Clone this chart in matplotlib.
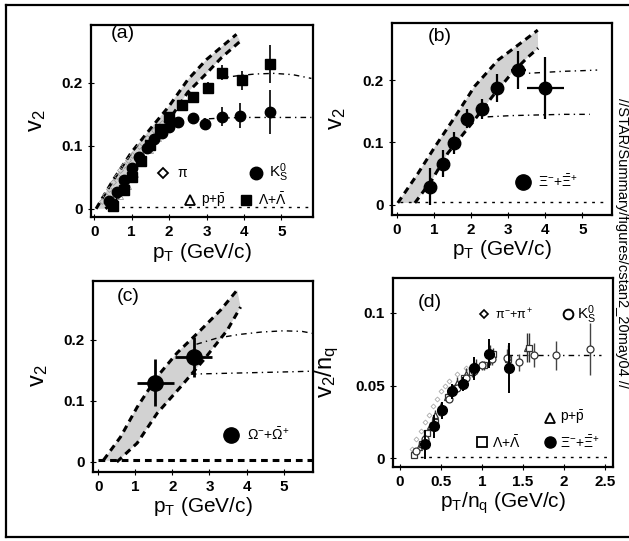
import numpy as np
import matplotlib.pyplot as plt
from matplotlib.lines import Line2D

plt.rcParams['font.family'] = ['Liberation Sans', 'DejaVu Sans']
plt.rcParams['mathtext.fontset'] = 'custom'
plt.rcParams['mathtext.rm'] = 'Liberation Sans'
plt.rcParams['mathtext.it'] = 'Liberation Sans'

# ---- panel (a): pi, K0s, p+pbar, Lambda ----
pi_pt = [0.2, 0.3, 0.4, 0.5, 0.6, 0.7, 0.8, 0.9, 1.0, 1.2, 1.4, 1.6, 1.8, 2.0]
pi_v2 = [0.012, 0.022, 0.032, 0.042, 0.052, 0.061, 0.069, 0.078, 0.086, 0.100, 0.113, 0.125, 0.136, 0.146]
pp_pt = [0.5, 0.7, 0.9, 1.1, 1.3, 1.5, 1.7, 1.9, 2.1, 2.4]
pp_v2 = [0.006, 0.020, 0.036, 0.055, 0.075, 0.094, 0.112, 0.130, 0.145, 0.163]
k0_pt = [0.4, 0.6, 0.8, 1.0, 1.2, 1.4, 1.6, 1.8, 2.0, 2.25, 2.65, 2.95, 3.4, 3.9, 4.7]
k0_v2 = [0.012, 0.027, 0.046, 0.065, 0.082, 0.096, 0.110, 0.121, 0.130, 0.138, 0.144, 0.135, 0.146, 0.148, 0.153]
k0_err = [0.003, 0.003, 0.003, 0.003, 0.003, 0.004, 0.004, 0.004, 0.005, 0.006, 0.008, 0.009, 0.015, 0.02, 0.035]
la_pt = [0.5, 0.8, 1.0, 1.25, 1.5, 1.75, 2.0, 2.35, 2.65, 3.05, 3.4, 3.95, 4.7]
la_v2 = [0.005, 0.030, 0.050, 0.076, 0.102, 0.127, 0.145, 0.165, 0.178, 0.192, 0.216, 0.204, 0.230]
la_err = [0.003, 0.003, 0.003, 0.004, 0.004, 0.005, 0.005, 0.006, 0.007, 0.009, 0.012, 0.015, 0.03]

# ---- panel (b): Xi ----
xi_pt = [0.89, 1.24, 1.54, 1.9, 2.3, 2.7, 3.27, 4.0]
xi_v2 = [0.029, 0.066, 0.099, 0.138, 0.154, 0.187, 0.216, 0.187]
xi_yerr = [0.03, 0.022, 0.018, 0.015, 0.016, 0.022, 0.03, 0.05]
xi_xerr = [0.0, 0.0, 0.0, 0.0, 0.0, 0.0, 0.2, 0.5]

# ---- panel (c): Omega ----
om_pt = [1.54, 2.57]
om_v2 = [0.13, 0.172]
om_yerr = [0.038, 0.033]
om_xerr = [0.5, 0.5]

# hydro bands (upper / lower dashed edges)
ba_up_x = [0.05, 0.5, 1.0, 1.5, 2.0, 2.5, 3.0, 3.5, 3.8]
ba_up_y = [0.0, 0.045, 0.09, 0.127, 0.163, 0.205, 0.237, 0.262, 0.277]
ba_lo_x = [0.3, 0.6, 0.9, 1.2, 1.5, 1.8, 2.1, 2.5, 3.0, 3.4, 3.9]
ba_lo_y = [0.0, 0.014, 0.042, 0.078, 0.105, 0.125, 0.150, 0.185, 0.215, 0.240, 0.266]
bb_up_x = [0.03, 0.57, 1.03, 1.57, 2.1, 2.73, 3.38, 3.8]
bb_up_y = [0.003, 0.05, 0.093, 0.141, 0.19, 0.232, 0.261, 0.28]
bb_lo_x = [0.49, 0.95, 1.38, 2.03, 2.57, 3.1, 3.54, 3.81]
bb_lo_y = [0.003, 0.04, 0.083, 0.131, 0.173, 0.211, 0.237, 0.251]
bc_up_x = [0.14, 0.6, 1.05, 1.59, 2.13, 2.76, 3.3, 3.75]
bc_up_y = [0.003, 0.041, 0.09, 0.14, 0.179, 0.216, 0.249, 0.282]
bc_lo_x = [0.5, 1.05, 1.59, 2.22, 2.84, 3.48, 3.84]
bc_lo_y = [0.0, 0.031, 0.08, 0.123, 0.167, 0.216, 0.254]

# quark-scaling dotted curves
bar_x = [3.3, 3.8, 4.3, 4.8, 5.3, 5.8]
bar_y = [0.207, 0.211, 0.214, 0.215, 0.213, 0.207]
mes_x = [2.25, 2.8, 3.4, 4.0, 4.6, 5.2, 5.8]
mes_y = [0.139, 0.142, 0.144, 0.145, 0.145, 0.145, 0.145]

# ---- panel (d): scaled ----
d_pi_x = [0.15, 0.2, 0.25, 0.3, 0.35, 0.4, 0.45, 0.5, 0.55, 0.6, 0.7, 0.8, 0.9]
d_pi_y = [0.006, 0.013, 0.019, 0.025, 0.030, 0.036, 0.041, 0.046, 0.050, 0.053, 0.058, 0.062, 0.065]
d_k_x = [0.2, 0.3, 0.4, 0.5, 0.6, 0.7, 0.8, 0.9, 1.0, 1.12, 1.3, 1.45, 1.63, 1.9, 2.32]
d_k_y = [0.005, 0.013, 0.022, 0.032, 0.041, 0.048, 0.055, 0.060, 0.064, 0.068, 0.069, 0.066, 0.071, 0.071, 0.075]
d_k_err = [0.002, 0.002, 0.002, 0.002, 0.002, 0.002, 0.002, 0.003, 0.003, 0.004, 0.006, 0.006, 0.008, 0.01, 0.018]
d_p_x = [0.17, 0.23, 0.3, 0.37, 0.43, 0.5, 0.57, 0.63, 0.7, 0.8, 0.93, 1.1, 1.32, 1.55]
d_p_y = [0.004, 0.008, 0.015, 0.022, 0.030, 0.036, 0.042, 0.047, 0.052, 0.058, 0.063, 0.071, 0.070, 0.076]
d_p_err = [0.003, 0.003, 0.003, 0.003, 0.003, 0.003, 0.003, 0.003, 0.004, 0.004, 0.005, 0.007, 0.008, 0.01]
d_la_x = [0.17, 0.27, 0.33, 0.42, 0.5, 0.58, 0.67, 0.78, 0.88, 1.02, 1.13, 1.32, 1.57]
d_la_y = [0.002, 0.010, 0.017, 0.025, 0.033, 0.042, 0.048, 0.055, 0.059, 0.064, 0.072, 0.068, 0.076]
d_la_err = [0.001, 0.001, 0.001, 0.001, 0.002, 0.002, 0.002, 0.002, 0.003, 0.003, 0.004, 0.005, 0.01]
d_xi_x = [0.3, 0.41, 0.51, 0.63, 0.77, 0.9, 1.09, 1.33]
d_xi_y = [0.0097, 0.022, 0.033, 0.046, 0.051, 0.062, 0.072, 0.062]
d_xi_err = [0.01, 0.008, 0.006, 0.005, 0.005, 0.008, 0.01, 0.017]
d_line_x = [1.3, 1.6, 1.9, 2.2, 2.45]
d_line_y = [0.071, 0.071, 0.071, 0.071, 0.071]

fig = plt.figure(figsize=(6.29, 5.41), dpi=100)
# outer frame (left, top, bottom sides only; right side is cut off in the scan)
for xs, ys in [([0.010, 0.010], [0.007, 0.991]), ([0.010, 1.0], [0.991, 0.991]),
               ([0.010, 1.0], [0.007, 0.007])]:
    fig.add_artist(Line2D(xs, ys, transform=fig.transFigure, color='black', lw=1.6))

band_dash = (0, (2.2, 1.6))
dot_ls = (0, (2, 4))
ddot_ls = (0, (4, 3, 1, 3))


def band(ax, ux, uy, lx, ly):
    ax.fill(np.r_[ux, lx[::-1]], np.r_[uy, ly[::-1]], color='#d2d2d2', lw=0, zorder=1)
    ax.plot(ux, uy, color='black', lw=2.2, ls=band_dash, zorder=2)
    ax.plot(lx, ly, color='black', lw=2.2, ls=band_dash, zorder=2)


def style(ax, xlim, ylim, xt, xtl, yt, ytl, xlabel, ylabel):
    ax.set_xlim(*xlim)
    ax.set_ylim(*ylim)
    ax.set_xticks(xt)
    ax.set_xticklabels(xtl, fontsize=11, fontweight='bold')
    ax.set_yticks(yt)
    ax.set_yticklabels(ytl, fontsize=11, fontweight='bold')
    ax.tick_params(direction='inout', length=4, width=0.8, pad=4)
    for s in ax.spines.values():
        s.set_linewidth(1.6)
    ax.set_xlabel(xlabel, fontsize=15, labelpad=1)
    ax.set_ylabel(ylabel, fontsize=17, labelpad=10)


xt5 = [0, 1, 2, 3, 4, 5]
xtl5 = ['0', '1', '2', '3', '4', '5']
yt = [0, 0.1, 0.2]
ytl = ['0', '0.1', '0.2']
ptlab = r'p$_\mathrm{T}$ (GeV/c)'
v2lab = r'v$_2$'

# (a)
ax = fig.add_axes([0.145, 0.599, 0.353, 0.355])
band(ax, np.array(ba_up_x), np.array(ba_up_y), np.array(ba_lo_x), np.array(ba_lo_y))
ax.plot([0.3, 5.8], [0.003, 0.003], color='black', lw=1, ls=dot_ls)
ax.plot(bar_x, bar_y, color='black', lw=1, ls=ddot_ls)
ax.plot(mes_x, mes_y, color='black', lw=1, ls=ddot_ls)
ax.plot(pi_pt, pi_v2, 'D', ms=3, mfc='none', mec='#9a9a9a', mew=0.6, zorder=3)
ax.plot(pp_pt, pp_v2, '^', ms=4, mfc='none', mec='#9a9a9a', mew=0.6, zorder=3)
ax.errorbar(la_pt, la_v2, yerr=la_err, fmt='s', ms=7, color='black', elinewidth=1.2, capsize=0, zorder=4)
ax.errorbar(k0_pt, k0_v2, yerr=k0_err, fmt='o', ms=7.5, color='black', elinewidth=1.2, capsize=0, zorder=4)
ax.plot([1.83], [0.057], 'D', ms=5, mfc='white', mec='black', mew=1.3)
ax.text(2.2, 0.057, r'$\pi$', fontsize=10, va='center')
ax.plot([4.33], [0.057], 'o', ms=9, color='black')
ax.text(4.68, 0.057, r'K$^0_S$', fontsize=11, va='center')
ax.plot([2.55], [0.014], '^', ms=7, mfc='white', mec='black', mew=1.3)
ax.text(2.85, 0.014, r'p+$\bar{\rm p}$', fontsize=10, va='center')
ax.plot([4.05], [0.014], 's', ms=7, color='black')
ax.text(4.37, 0.014, r'$\Lambda$+$\bar{\Lambda}$', fontsize=10, va='center')
ax.text(0.45, 0.278, '(a)', fontsize=14, va='center')
style(ax, (-0.08, 5.85), (-0.013, 0.292), xt5, xtl5, yt, ytl, ptlab, v2lab)

# (b)
ax = fig.add_axes([0.623, 0.603, 0.350, 0.354])
band(ax, np.array(bb_up_x), np.array(bb_up_y), np.array(bb_lo_x), np.array(bb_lo_y))
ax.plot([0.1, 5.7], [0.004, 0.004], color='black', lw=1, ls=dot_ls)
ax.plot([3.3, 3.9, 4.5, 5.0, 5.4], [0.210, 0.212, 0.214, 0.215, 0.216], color='black', lw=1, ls=ddot_ls)
ax.plot([2.45, 3.1, 3.8, 4.5, 5.2], [0.141, 0.143, 0.144, 0.145, 0.145], color='black', lw=1, ls=ddot_ls)
ax.errorbar(xi_pt, xi_v2, yerr=xi_yerr, xerr=xi_xerr, fmt='o', ms=9, color='black',
            elinewidth=1.6, capsize=0, zorder=4)
ax.plot([3.4], [0.037], 'o', ms=11, color='black')
ax.text(3.8, 0.037, r'$\Xi^{-}$+$\bar{\Xi}^{+}$', fontsize=10, va='center')
ax.text(0.85, 0.27, '(b)', fontsize=14, va='center')
style(ax, (-0.13, 5.8), (-0.016, 0.291), xt5, xtl5, yt, ytl, ptlab, v2lab)

# (c)
ax = fig.add_axes([0.148, 0.128, 0.350, 0.353])
band(ax, np.array(bc_up_x), np.array(bc_up_y), np.array(bc_lo_x), np.array(bc_lo_y))
ax.plot([0.0, 5.9], [0.004, 0.004], color='black', lw=2.2, ls=band_dash)
ax.plot([2.65, 3.2, 3.8, 4.4, 5.0, 5.5, 5.85], [0.193, 0.203, 0.209, 0.213, 0.215, 0.214, 0.21],
        color='black', lw=1, ls=ddot_ls)
ax.plot([2.5, 3.2, 3.9, 4.6, 5.3, 5.85], [0.144, 0.145, 0.146, 0.147, 0.148, 0.149], color='black', lw=1, ls=ddot_ls)
ax.errorbar(om_pt, om_v2, yerr=om_yerr, xerr=om_xerr, fmt='o', ms=11, color='black',
            elinewidth=2, capsize=0, zorder=4)
ax.plot([3.57], [0.044], 'o', ms=11, color='black')
ax.text(4.0, 0.044, r'$\Omega^{-}$+$\bar{\Omega}^{+}$', fontsize=10, va='center')
ax.text(0.5, 0.272, '(c)', fontsize=14, va='center')
style(ax, (-0.14, 5.8), (-0.016, 0.297), xt5, xtl5, yt, ytl, ptlab, v2lab)

# (d)
ax = fig.add_axes([0.625, 0.137, 0.350, 0.349])
ax.plot([0.15, 2.55], [0.001, 0.001], color='black', lw=1, ls=dot_ls)
ax.plot(d_line_x, d_line_y, color='black', lw=1, ls=ddot_ls)
ax.plot(d_pi_x, d_pi_y, 'D', ms=2.5, mfc='none', mec='#aaaaaa', mew=0.6, zorder=3)
ax.errorbar(d_p_x, d_p_y, yerr=d_p_err, fmt='^', ms=5, mfc='white', mec='#333333', mew=0.9,
            ecolor='#333333', elinewidth=1, capsize=0, zorder=3)
ax.errorbar(d_la_x, d_la_y, yerr=d_la_err, fmt='s', ms=5, mfc='white', mec='#333333', mew=0.9,
            ecolor='#333333', elinewidth=1, capsize=0, zorder=3)
ax.errorbar(d_k_x, d_k_y, yerr=d_k_err, fmt='o', ms=5, mfc='white', mec='#333333', mew=0.9,
            ecolor='#444444', elinewidth=1, capsize=0, zorder=3)
ax.errorbar(d_xi_x, d_xi_y, yerr=d_xi_err, fmt='o', ms=7, color='black', elinewidth=1.4,
            capsize=0, zorder=4)
ax.plot([1.02], [0.099], 'D', ms=4, mfc='white', mec='black', mew=1.2)
ax.text(1.16, 0.099, r'$\pi^{-}$+$\pi^{+}$', fontsize=9, va='center')
ax.plot([2.05], [0.099], 'o', ms=7, mfc='white', mec='black', mew=1.4)
ax.text(2.16, 0.099, r'K$^0_S$', fontsize=11, va='center')
ax.plot([1.83], [0.028], '^', ms=7, mfc='white', mec='black', mew=1.3)
ax.text(1.95, 0.028, r'p+$\bar{\rm p}$', fontsize=10, va='center')
ax.plot([1.0], [0.011], 's', ms=6.5, mfc='white', mec='black', mew=1.3)
ax.text(1.12, 0.011, r'$\Lambda$+$\bar{\Lambda}$', fontsize=10, va='center')
ax.plot([1.83], [0.011], 'o', ms=8, color='black')
ax.text(1.95, 0.011, r'$\Xi^{-}$+$\bar{\Xi}^{+}$', fontsize=10, va='center')
ax.text(0.22, 0.107, '(d)', fontsize=14, va='center')
style(ax, (-0.085, 2.6), (-0.006, 0.124), [0, 0.5, 1, 1.5, 2, 2.5],
      ['0', '0.5', '1', '1.5', '2', '2.5'], [0, 0.05, 0.1], ['0', '0.05', '0.1'],
      r'p$_\mathrm{T}$/n$_\mathrm{q}$ (GeV/c)', r'v$_2$/n$_\mathrm{q}$')

fig.text(0.989, 0.55, '//STAR/Summary/figures/cstan2_20may04 //', rotation=-90,
         fontsize=10.5, ha='center', va='center')

fig.savefig('out.png', dpi=100)
